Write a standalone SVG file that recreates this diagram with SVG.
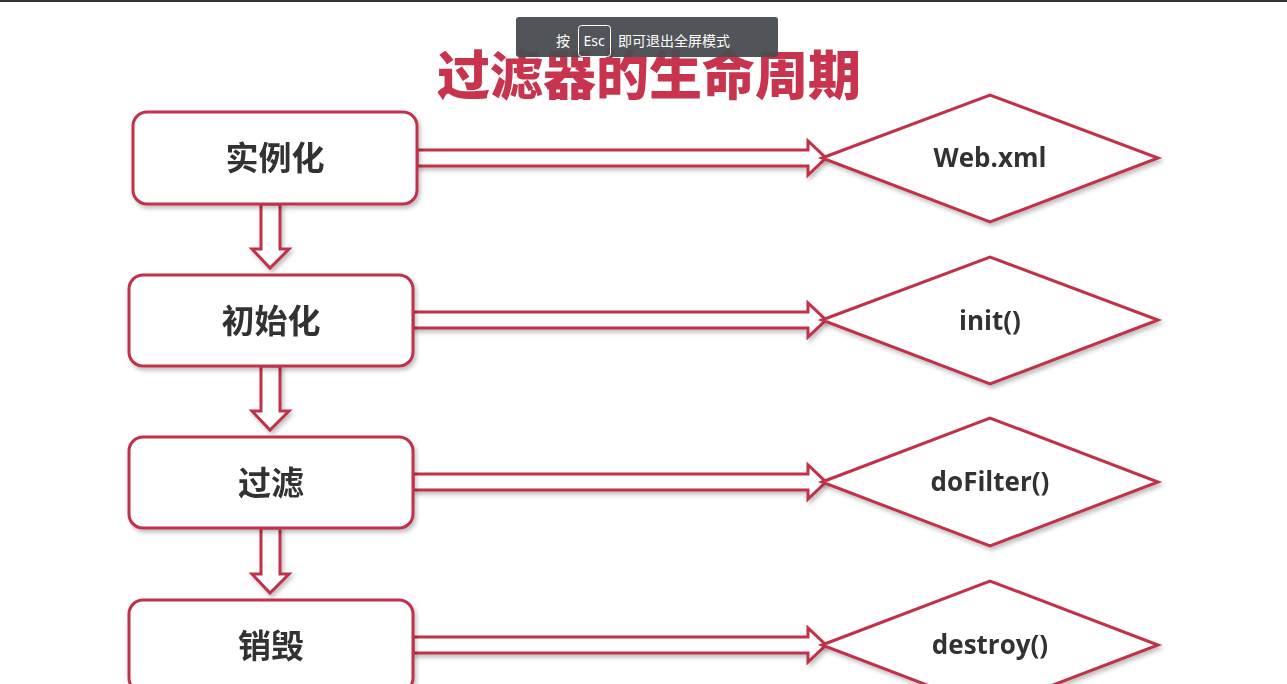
<svg xmlns="http://www.w3.org/2000/svg" width="1287" height="684" viewBox="0 0 1287 684">
<defs>
<style>
.box{fill:#fff;stroke:#c0304a;stroke-width:3}
.arr{fill:#fff;stroke:#c0304a;stroke-width:3;stroke-linejoin:miter}
.lbl{font-family:"Noto Sans CJK SC","Noto Sans",sans-serif;font-weight:bold;font-size:33px;fill:#333;text-anchor:middle}
.dl{font-family:"Open Sans","Noto Sans",sans-serif;font-weight:bold;font-size:26px;fill:#333;text-anchor:middle}
</style>
<filter id="sh" x="-10%" y="-10%" width="130%" height="130%"><feDropShadow dx="2" dy="3" stdDeviation="2" flood-color="#000" flood-opacity="0.25"/></filter>
</defs>
<rect width="1287" height="684" fill="#fff"/>
<rect x="0" y="0" width="1287" height="2" fill="#333"/>
<text x="649" y="95" font-family="'Noto Sans CJK SC',sans-serif" font-weight="900" font-size="53" fill="#c8344e" text-anchor="middle">过滤器的生命周期</text>
<g id="connectors" filter="url(#sh)">
<path class="arr" d="M417,150 H808 V141 L826,158 L808,175 V166 H417 Z"/>
<path class="arr" d="M413,312 H808 V303 L826,320 L808,337 V328 H413 Z"/>
<path class="arr" d="M413,474 H808 V465 L826,482 L808,499 V490 H413 Z"/>
<path class="arr" d="M413,637 H808 V628 L826,645 L808,662 V653 H413 Z"/>
<path class="arr" d="M261,204 V249 H252 L270,268 L289,249 H280 V204 Z"/>
<path class="arr" d="M261,366 V411 H252 L270,430 L289,411 H280 V366 Z"/>
<path class="arr" d="M261,528 V574 H252 L270,593 L289,574 H280 V528 Z"/>
</g>
<g id="n1" filter="url(#sh)"><rect class="box" x="133" y="112" width="284" height="92" rx="14"/><text class="lbl" x="275" y="170">实例化</text></g>
<g id="n2" filter="url(#sh)"><rect class="box" x="129" y="275" width="284" height="91" rx="14"/><text class="lbl" x="271" y="333">初始化</text></g>
<g id="n3" filter="url(#sh)"><rect class="box" x="129" y="437" width="284" height="91" rx="14"/><text class="lbl" x="271" y="495">过滤</text></g>
<g id="n4" filter="url(#sh)"><rect class="box" x="129" y="600" width="284" height="92" rx="14"/><text class="lbl" x="271" y="658">销毁</text></g>
<g id="d1" filter="url(#sh)"><polygon class="box" points="822,158 990,95 1158,158 990,222"/><text class="dl" x="990" y="167">Web.xml</text></g>
<g id="d2" filter="url(#sh)"><polygon class="box" points="822,320 990,257 1158,320 990,384"/><text class="dl" x="990" y="330">init()</text></g>
<g id="d3" filter="url(#sh)"><polygon class="box" points="822,482 990,418 1158,482 990,546"/><text class="dl" x="990" y="491">doFilter()</text></g>
<g id="d4" filter="url(#sh)"><polygon class="box" points="822,645 990,581 1158,645 990,709"/><text class="dl" x="990" y="654">destroy()</text></g>
<g id="toast">
<rect x="516" y="17" width="262" height="40" rx="3" fill="#4a4d52" fill-opacity="0.96"/>
<text x="563" y="46" font-family="'Noto Sans CJK SC',sans-serif" font-size="14" fill="#fff" text-anchor="middle">按</text>
<rect x="578.5" y="25.5" width="32" height="31" rx="3" fill="none" stroke="#fff" stroke-width="1"/>
<text x="594" y="46" font-family="'Noto Sans',sans-serif" font-size="14" fill="#fff" text-anchor="middle">Esc</text>
<text x="618" y="46" font-family="'Noto Sans CJK SC',sans-serif" font-size="14" fill="#fff">即可退出全屏模式</text>
</g>
</svg>
